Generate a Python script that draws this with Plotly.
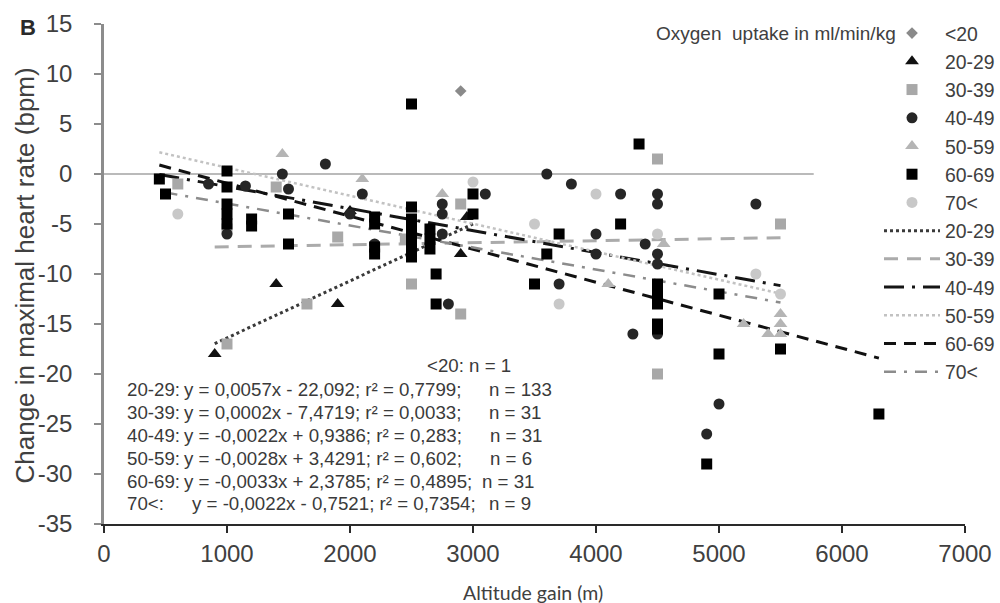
import plotly.graph_objects as go

# ---- measured points: altitude gain (m) vs change in maximal heart rate (bpm) ----
alt_lt20 = [2900]
hr_lt20 = [8.3]

alt_20_29 = [900, 1400, 1900, 2000, 2900, 2950]
hr_20_29 = [-18, -11, -13, -3.7, -8, -4.3]

alt_30_39 = [600, 1000, 1000, 1400, 1650, 1900, 2450, 2500, 2900, 2900, 4500, 4500, 5500]
hr_30_39 = [-1, -17, -5.5, -1.3, -13, -6.3, -6.5, -11, -14, -3, 1.5, -20, -5]

alt_40_49 = [850, 1000, 1150, 1450, 1500, 1800, 2000, 2100, 2200, 2750, 2750, 2750, 2800,
             3100, 3600, 3700, 3800, 4000, 4000, 4200, 4300, 4400, 4500, 4500, 4500, 4500,
             4500, 4900, 5000, 5300]
hr_40_49 = [-1, -6, -1.2, 0, -1.5, 1, -4, -2, -7, -3, -4, -6, -13,
            -2, 0, -11, -1, -6, -8, -2, -16, -7, -2, -3, -8, -9,
            -16, -26, -23, -3]

alt_50_59 = [1450, 2100, 2750, 4100, 4550, 5200, 5400, 5500, 5500, 5500]
hr_50_59 = [2, -0.5, -2, -11, -7, -15, -16, -14, -15, -16]

alt_60_69 = [450, 500, 1000, 1000, 1000, 1000, 1000, 1200, 1200, 1500, 1500, 2200, 2200,
             2200, 2200, 2500, 2500, 2500, 2500, 2500, 2500, 2500, 2650, 2650, 2650, 2700,
             2700, 3000, 3000, 3500, 3600, 3700, 4200, 4350, 4500, 4500, 4500, 4500, 4500,
             4900, 5000, 5000, 5500, 6300]
hr_60_69 = [-0.5, -2, 0.3, -1.3, -3, -4, -5, -4.5, -5.2, -4, -7, -4.3, -5,
            -7.3, -8, 7, -3.3, -4.5, -5.5, -6.5, -7.5, -8.3, -5.5, -6.5, -7.5, -10,
            -13, -2, -4, -11, -8, -6, -5, 3, -11, -12, -13, -15, -15.5,
            -29, -12, -18, -17.5, -24]

alt_70 = [600, 3000, 3500, 3700, 4000, 4500, 5300, 5500]
hr_70 = [-4, -0.8, -5, -13, -2, -6, -10, -12]

# ---- linear fits (slope, intercept) and the altitude span each covers ----
fit_groups = ["20-29", "30-39", "40-49", "50-59", "60-69", "70<"]
fit_slope = [0.0057, 0.0002, -0.0022, -0.0028, -0.0033, -0.0022]
fit_intercept = [-22.092, -7.4719, 0.9386, 3.4291, 2.3785, -0.7521]
fit_x_start = [900, 900, 450, 450, 450, 500]
fit_x_end = [3000, 5500, 5500, 5500, 6300, 5500]

# axis ticks
x_ticks = [0, 1000, 2000, 3000, 4000, 5000, 6000, 7000]
y_ticks = [15, 10, 5, 0, -5, -10, -15, -20, -25, -30, -35]
y_tick_text = ["15", "10", "5", "0", "-5", "-10", "-15", "-20", "-25", "-30", "-35"]

# equation block text
eq_labels = ["20-29:", "30-39:", "40-49:", "50-59:", "60-69:", "70<:"]
eq_texts = ["y = 0,0057x - 22,092; r² = 0,7799;",
            "y = 0,0002x - 7,4719; r² = 0,0033;",
            "y = -0,0022x + 0,9386; r² = 0,283;",
            "y = -0,0028x + 3,4291; r² = 0,602;",
            "y = -0,0033x + 2,3785; r² = 0,4895;",
            "y = -0,0022x - 0,7521; r² = 0,7354;"]
n_texts = ["n = 133", "n = 31", "n = 31", "n = 6", "n = 31", "n = 9"]

zero_line_end = 5770

FONT = "Liberation Sans, Arial, sans-serif"
TXT = "#3c3c3c"

# plot-area geometry in pixels (used to place free text)
L, R, T, B = 104, 965, 24, 524


def px(xp):
    return (xp - L) / (R - L)


def py(yp):
    return (B - yp) / (B - T)


fig = go.Figure()

marker_series = [
    ("<20", alt_lt20, hr_lt20, "diamond", 9, "#8a8a8a"),
    ("20-29", alt_20_29, hr_20_29, "triangle-up", 12, "#111111"),
    ("30-39", alt_30_39, hr_30_39, "square", 11, "#a8a8a8"),
    ("40-49", alt_40_49, hr_40_49, "circle", 11, "#262626"),
    ("50-59", alt_50_59, hr_50_59, "triangle-up", 12, "#b5b5b5"),
    ("60-69", alt_60_69, hr_60_69, "square", 11, "#000000"),
    ("70<", alt_70, hr_70, "circle", 11, "#c8c8c8"),
]

line_styles = {
    "20-29": ("#3a3a3a", 3, "3px,3px"),
    "30-39": ("#ababab", 3, "14px,9px"),
    "40-49": ("#151515", 3, "20px,8px,3px,8px"),
    "50-59": ("#c2c2c2", 2.5, "3px,3px"),
    "60-69": ("#111111", 3, "12px,8px"),
    "70<": ("#8c8c8c", 2.5, "12px,8px,3px,8px"),
}

# trend lines first so markers sit on top; legend ranks keep markers listed first
for i, g in enumerate(fit_groups):
    xs = [fit_x_start[i], fit_x_end[i]]
    ys = [fit_slope[i] * x + fit_intercept[i] for x in xs]
    color, width, dash = line_styles[g]
    fig.add_trace(go.Scatter(
        x=xs, y=ys, mode="lines", name=g, legendrank=100 + i,
        line=dict(color=color, width=width, dash=dash),
        hoverinfo="skip"))

for j, (name, xs, ys, sym, size, color) in enumerate(marker_series):
    fig.add_trace(go.Scatter(
        x=xs, y=ys, mode="markers", name=name, legendrank=j,
        marker=dict(symbol=sym, size=size, color=color, line=dict(width=0))))

axis_common = dict(showgrid=False, zeroline=False, mirror=False)

fig.update_layout(
    width=1000, height=603,
    margin=dict(l=L, r=1000 - R, t=T, b=603 - B, autoexpand=False),
    paper_bgcolor="white", plot_bgcolor="white",
    font=dict(family=FONT, color=TXT),
    showlegend=True,
    legend=dict(
        x=px(879), y=py(14), xanchor="left", yanchor="top",
        itemwidth=56, tracegroupgap=0, traceorder="normal",
        maxheight=600,
        bgcolor="rgba(0,0,0,0)", borderwidth=0,
        font=dict(family=FONT, size=19.4, color="#404040"),
    ),
    xaxis=dict(
        range=[0, 7000], tickmode="array", tickvals=x_ticks,
        ticktext=[str(v) for v in x_ticks],
        showline=True, linecolor="#2a2a2a", linewidth=2,
        ticks="outside", ticklen=7, tickwidth=1.5, tickcolor="#2a2a2a",
        tickfont=dict(family=FONT, size=24, color="#404040"),
        **axis_common),
    yaxis=dict(
        range=[-35, 15], tickmode="array", tickvals=y_ticks, ticktext=y_tick_text,
        showline=True, linecolor="#8c8c8c", linewidth=2.5,
        ticks="outside", ticklen=7, tickwidth=2, tickcolor="#8c8c8c",
        ticklabelstandoff=17,
        tickfont=dict(family=FONT, size=24, color="#404040"),
        **axis_common),
    # companion axes drawing the inner half of the crossing tick marks
    xaxis2=dict(
        range=[0, 7000], tickmode="array", tickvals=x_ticks,
        overlaying="x", anchor="y", side="bottom",
        ticks="inside", ticklen=7, tickwidth=1.5, tickcolor="#2a2a2a",
        showticklabels=False, showline=False, **axis_common),
    yaxis2=dict(
        range=[-35, 15], tickmode="array", tickvals=y_ticks,
        overlaying="y", anchor="x", side="left",
        ticks="inside", ticklen=7, tickwidth=2, tickcolor="#8c8c8c",
        showticklabels=False, showline=False, **axis_common),
)

# horizontal reference line at zero change
fig.add_shape(type="line", xref="x", yref="y", x0=0, x1=zero_line_end, y0=0, y1=0,
              line=dict(color="#a3a3a3", width=1.5), layer="below")

ann = []
# panel letter
ann.append(dict(text="<b>B</b>", x=px(28), y=py(27), xref="paper", yref="paper",
                showarrow=False, xanchor="center", yanchor="middle",
                font=dict(family=FONT, size=22, color="#2a2a2a")))
# y-axis title
ann.append(dict(text="Change in maximal heart rate (bpm)", x=px(24), y=py(275.5),
                xref="paper", yref="paper", showarrow=False, textangle=-90,
                xanchor="center", yanchor="middle",
                font=dict(family=FONT, size=26, color="#404040")))
# x-axis title
ann.append(dict(text="Altitude gain (m)", x=px(533), y=py(592), xref="paper", yref="paper",
                showarrow=False, xanchor="center", yanchor="middle",
                font=dict(family="Lato, Open Sans, sans-serif", size=19.5, color="#404040")))
# legend heading
ann.append(dict(text="Oxygen  uptake in ml/min/kg", x=px(898), y=py(33),
                xref="paper", yref="paper", showarrow=False,
                xanchor="right", yanchor="middle",
                font=dict(family=FONT, size=19, color="#404040")))

# equation block
row_y = [389, 412, 435, 458, 481, 503]
eq_x = [182, 182, 182, 182, 182, 190]
n_x = [487, 487, 488, 488, 480, 487]
eq_font = dict(family=FONT, size=18.7, color="#3a3a3a")
ann.append(dict(text="<20: n = 1", x=px(425), y=py(366), xref="paper", yref="paper",
                showarrow=False, xanchor="left", yanchor="middle", font=eq_font))
for k in range(len(eq_labels)):
    for txt, xp in ((eq_labels[k], 125), (eq_texts[k], eq_x[k]), (n_texts[k], n_x[k])):
        ann.append(dict(text=txt, x=px(xp), y=py(row_y[k]), xref="paper", yref="paper",
                        showarrow=False, xanchor="left", yanchor="middle", font=eq_font))

fig.update_layout(annotations=ann)

fig.write_html("out.html")
